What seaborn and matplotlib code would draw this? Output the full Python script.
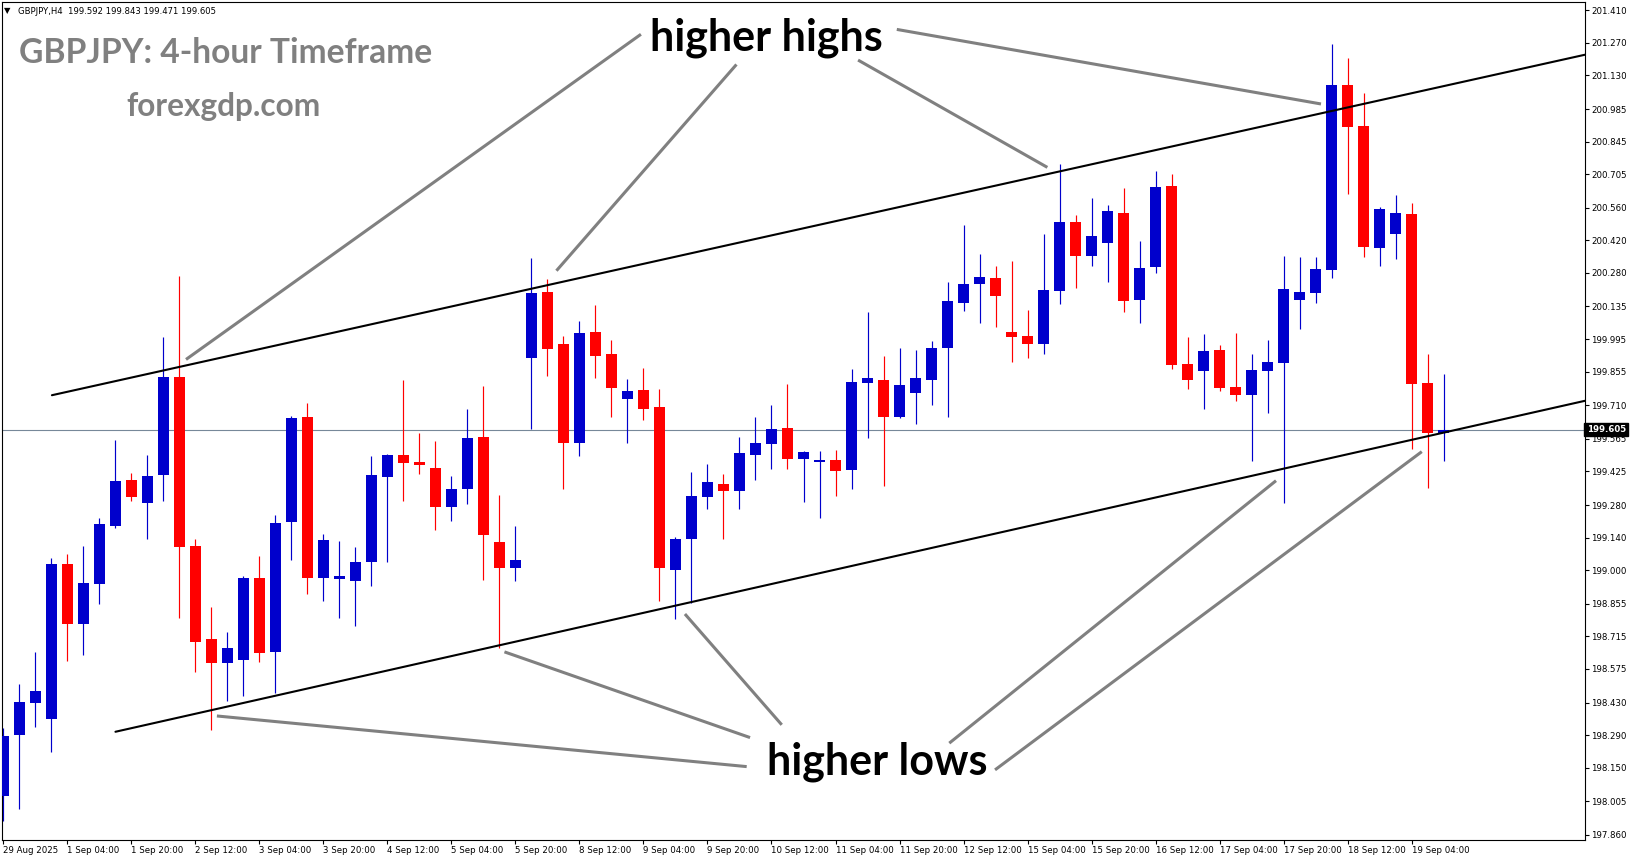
import numpy as np
import matplotlib.pyplot as plt
import seaborn as sns
from matplotlib.transforms import blended_transform_factory

# Set style
sns.set_theme(style="white")
plt.rcParams['font.family'] = ['DejaVu Sans']

W, H = 1631, 861

# GBPJPY H4 candles, 29 Aug 12:00 -> 19 Sep 12:00
opens = [198.029, 198.292, 198.430, 198.361, 199.027, 198.769, 198.942, 199.191, 199.388, 199.291,
         199.410, 199.833, 199.104, 198.704, 198.598, 198.615, 198.967, 198.649, 199.208, 199.659,
         198.964, 198.961, 198.955, 199.036, 199.402, 199.496, 199.466, 199.440, 199.273, 199.349,
         199.573, 199.121, 199.011, 199.915, 200.198, 199.974, 199.549, 200.025, 199.931, 199.738,
         199.776, 199.702, 199.001, 199.136, 199.316, 199.371, 199.342, 199.497, 199.545, 199.612,
         199.479, 199.467, 199.473, 199.431, 199.807, 199.819, 199.661, 199.764, 199.820, 199.958,
         200.152, 200.233, 200.258, 200.025, 200.008, 199.975, 200.203, 200.499, 200.354, 200.410,
         200.538, 200.164, 200.307, 200.654, 199.888, 199.859, 199.948, 199.790, 199.756, 199.859,
         199.893, 200.164, 200.195, 200.294, 201.089, 200.914, 200.388, 200.449, 200.533, 199.806,
         199.592]
highs = [198.321, 198.510, 198.647, 199.053, 199.070, 199.104, 199.225, 199.560, 199.419, 199.496,
         200.005, 200.266, 199.133, 198.841, 198.733, 198.975, 199.061, 199.238, 199.663, 199.720,
         199.156, 199.125, 199.099, 199.491, 199.500, 199.819, 199.592, 199.556, 199.405, 199.694,
         199.793, 199.324, 199.190, 200.345, 200.253, 200.008, 200.073, 200.142, 199.991, 199.823,
         199.869, 199.780, 199.144, 199.424, 199.457, 199.414, 199.573, 199.661, 199.711, 199.801,
         199.513, 199.513, 199.517, 199.866, 200.111, 199.922, 199.956, 199.948, 199.987, 200.241,
         200.486, 200.361, 200.309, 200.331, 200.120, 200.447, 200.749, 200.529, 200.602, 200.572,
         200.645, 200.417, 200.718, 200.705, 200.004, 200.017, 199.969, 200.021, 199.931, 199.991,
         200.352, 200.348, 200.348, 201.265, 201.205, 201.054, 200.563, 200.615, 200.581, 199.931,
         199.843]
lows = [197.920, 197.970, 198.326, 198.218, 198.610, 198.636, 198.856, 199.180, 199.299, 199.136,
        199.299, 198.792, 198.563, 198.310, 198.438, 198.460, 198.603, 198.472, 199.045, 198.895,
        198.869, 198.792, 198.761, 198.933, 199.036, 199.299, 199.414, 199.173, 199.213, 199.285,
        198.958, 198.665, 198.955, 199.608, 199.836, 199.349, 199.493, 199.829, 199.661, 199.549,
        199.646, 198.869, 198.788, 198.860, 199.265, 199.136, 199.265, 199.388, 199.436, 199.436,
        199.295, 199.226, 199.321, 199.349, 199.570, 199.364, 199.657, 199.631, 199.712, 199.661,
        200.116, 200.065, 200.048, 199.898, 199.915, 199.932, 200.147, 200.216, 200.311, 200.242,
        200.113, 200.065, 200.281, 199.867, 199.781, 199.695, 199.773, 199.730, 199.471, 199.678,
        199.288, 200.040, 200.152, 200.259, 200.621, 200.350, 200.311, 200.341, 199.523, 199.355,
        199.471]
closes = [198.287, 198.432, 198.480, 199.027, 198.766, 198.945, 199.199, 199.384, 199.316, 199.405,
          199.833, 199.099, 198.692, 198.598, 198.666, 198.967, 198.641, 199.204, 199.656, 198.964,
          199.130, 198.975, 199.035, 199.410, 199.496, 199.463, 199.454, 199.273, 199.349, 199.569,
          199.151, 199.011, 199.044, 200.195, 199.954, 199.549, 200.021, 199.922, 199.786, 199.771,
          199.694, 199.007, 199.134, 199.319, 199.380, 199.342, 199.504, 199.547, 199.608, 199.479,
          199.509, 199.474, 199.428, 199.810, 199.827, 199.661, 199.797, 199.827, 199.956, 200.159,
          200.232, 200.262, 200.182, 200.005, 199.975, 200.206, 200.499, 200.354, 200.439, 200.546,
          200.160, 200.301, 200.649, 199.885, 199.820, 199.944, 199.786, 199.756, 199.862, 199.896,
          200.210, 200.198, 200.297, 201.089, 200.909, 200.393, 200.556, 200.538, 199.803, 199.592,
          199.605]

time_labels = ['29 Aug 2025', '1 Sep 04:00', '1 Sep 20:00', '2 Sep 12:00', '3 Sep 04:00',
               '3 Sep 20:00', '4 Sep 12:00', '5 Sep 04:00', '5 Sep 20:00', '8 Sep 12:00',
               '9 Sep 04:00', '9 Sep 20:00', '10 Sep 12:00', '11 Sep 04:00', '11 Sep 20:00',
               '12 Sep 12:00', '15 Sep 04:00', '15 Sep 20:00', '16 Sep 12:00', '17 Sep 04:00',
               '17 Sep 20:00', '18 Sep 12:00', '19 Sep 04:00']
price_ticks = [197.860, 198.005, 198.150, 198.290, 198.430, 198.575, 198.715, 198.855, 199.000,
               199.140, 199.280, 199.425, 199.565, 199.710, 199.855, 199.995, 200.135, 200.280,
               200.420, 200.560, 200.705, 200.845, 200.985, 201.130, 201.270, 201.410]
bid_price = 199.605

# channel lines and pointer lines as (bar, price) pairs
upper_channel = ([3.03, 98.84], [199.753, 201.219])
lower_channel = ([7.0, 98.84], [198.304, 199.729])
high_pointers = [((39.84, 201.307), (11.41, 199.907)),
                 ((45.81, 201.177), (34.56, 200.289)),
                 ((53.41, 201.196), (65.24, 200.734)),
                 ((55.83, 201.328), (82.34, 201.007))]
low_pointers = [((46.45, 198.154), (13.34, 198.372)),
                ((46.66, 198.279), (31.31, 198.648)),
                ((48.64, 198.334), (42.59, 198.811)),
                ((59.11, 198.255), (79.53, 199.385)),
                ((61.97, 198.140), (88.64, 199.510))]

fig = plt.figure(figsize=(W / 100, H / 100), dpi=100)
fig.patch.set_facecolor('white')
ax = fig.add_axes([2 / W, 21 / H, 1583 / W, 838 / H])
ax.set_facecolor('white')

idx = np.arange(len(opens))
o = np.array(opens)
c = np.array(closes)
colors = np.where(c >= o, '#0000CC', '#FF0000')

# candles
ax.vlines(idx, lows, highs, colors=colors, linewidth=0.85, zorder=2)
ax.bar(idx, np.maximum(np.abs(c - o), 0.006), bottom=np.minimum(o, c), width=0.69,
       color=colors, linewidth=0, zorder=3)

# bid line
ax.axhline(bid_price, color='#778899', linewidth=0.8, zorder=1)

# channel
for xs, ys in [upper_channel, lower_channel]:
    sns.lineplot(x=xs, y=ys, ax=ax, color='black', linewidth=1.5, zorder=4)

for (x0, y0), (x1, y1) in high_pointers + low_pointers:
    ax.plot([x0, x1], [y0, y1], color='#808080', linewidth=2.2, solid_capstyle='butt', zorder=5)

ax.set_xlim(-0.09, 98.84)
ax.set_ylim(197.838, 201.446)

ax.set_xticks(idx[::4])
ax.set_xticklabels(time_labels, ha='left', fontsize=6.2)
ax.yaxis.tick_right()
ax.set_yticks(price_ticks)
ax.set_yticklabels([f'{p:.3f}' for p in price_ticks], fontsize=6.2)
ax.tick_params(axis='both', direction='out', length=3, width=0.8, color='black', pad=1.5,
               labelcolor='black', bottom=True, right=True)
for s in ax.spines.values():
    s.set_color('black')
    s.set_linewidth(0.8)

# bid price box on the axis
tr = blended_transform_factory(ax.transAxes, ax.transData)
ax.text(1.001, bid_price, f'{bid_price:.3f}', transform=tr, ha='left', va='center',
        color='white', fontsize=6.2, fontweight='bold', clip_on=False, zorder=10,
        bbox=dict(facecolor='black', edgecolor='black', boxstyle='square,pad=0.25'))

# header and watermark
fig.text(4 / W, 1 - 11 / H, '\u25bc', fontsize=6, va='center', color='black')
fig.text(18 / W, 1 - 11 / H, 'GBPJPY,H4  199.592 199.843 199.471 199.605',
         fontsize=6.1, va='center', color='black')
fig.text(19 / W, 1 - 63 / H, 'GBPJPY: 4-hour Timeframe', fontsize=24.2, fontweight='bold',
         family='Lato', color='#808080', va='baseline', ha='left')
fig.text(224 / W, 1 - 116 / H, 'forexgdp.com', fontsize=22.8, fontweight='bold',
         family='Lato', color='#808080', va='baseline', ha='center')

# annotation labels
fig.text(766.5 / W, 1 - 50 / H, 'higher highs', fontsize=31, fontweight='bold',
         family='Lato', color='black', va='baseline', ha='center')
fig.text(877.5 / W, 1 - 774 / H, 'higher lows', fontsize=31, fontweight='bold',
         family='Lato', color='black', va='baseline', ha='center')

fig.savefig('out.png', dpi=100, facecolor='white')
